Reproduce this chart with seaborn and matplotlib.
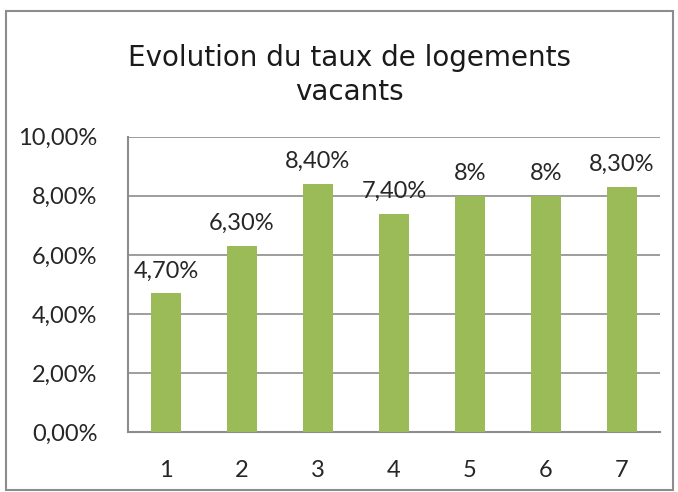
import pandas as pd
import seaborn as sns
import matplotlib.pyplot as plt
from matplotlib.patches import Rectangle

# Data
periodes = ["1", "2", "3", "4", "5", "6", "7"]
taux = [4.7, 6.3, 8.4, 7.4, 8.0, 8.0, 8.3]
etiquettes = ["4,70%", "6,30%", "8,40%", "7,40%", "8%", "8%", "8,30%"]
yticks = [0, 2, 4, 6, 8, 10]
ytick_labels = ["0,00%", "2,00%", "4,00%", "6,00%", "8,00%", "10,00%"]

df = pd.DataFrame({"periode": periodes, "taux": taux})

sns.set_style("white")
plt.rcParams['font.family'] = ['Lato', 'DejaVu Sans']

fig = plt.figure(figsize=(6.78, 4.92), dpi=100)
ax = fig.add_axes([0.189, 0.122, 0.784, 0.600])

sns.barplot(data=df, x="periode", y="taux", color="#9BBB59", width=0.4,
            saturation=1, linewidth=0, ax=ax, zorder=3)

ax.set_ylim(0, 10)
ax.set_yticks(yticks)
ax.set_yticklabels(ytick_labels, fontsize=17)
ax.tick_params(axis='x', labelsize=17, pad=20, length=0)
ax.tick_params(axis='y', pad=22, length=0)
ax.set_xlabel("")
ax.set_ylabel("")
ax.grid(axis='y', color='#8c8c8c', linewidth=1.2, zorder=0)
for side in ["top", "right"]:
    ax.spines[side].set_visible(False)
for side in ["left", "bottom"]:
    ax.spines[side].set_color('#8c8c8c')
    ax.spines[side].set_linewidth(1.5)

for i, (v, lab) in enumerate(zip(taux, etiquettes)):
    ax.text(i, v + 0.4, lab, ha='center', va='bottom', fontsize=17)

fig.text(0.516, 0.785, "Evolution du taux de logements\nvacants", ha='center',
         va='bottom', fontsize=20, linespacing=1.25, family=['DejaVu Sans'],
         color='#1a1a1a')

# chart border
fig.patches.append(Rectangle((0.009, 0.004), 0.984, 0.974, transform=fig.transFigure,
                             fill=False, edgecolor='#8c8c8c', linewidth=1.5))

fig.savefig("out.png", dpi=100)
